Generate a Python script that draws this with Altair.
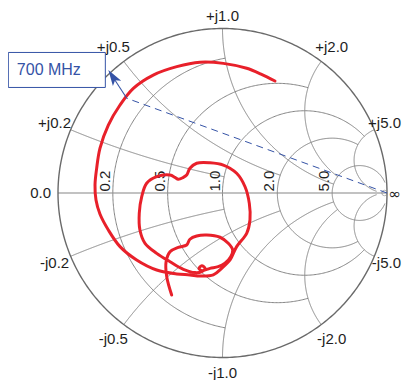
import numpy as np
import pandas as pd
import altair as alt

# ---------------- data (reflection coefficient) ----------------
trace_re = [0.319, 0.234, 0.147, 0.005, -0.137, -0.278, -0.421, -0.542, -0.623, -0.694,
            -0.745, -0.765, -0.775, -0.769, -0.745, -0.694, -0.623, -0.522, -0.400, -0.278,
            -0.198, -0.137, -0.056, -0.005, 0.046, 0.086, 0.147, 0.167, 0.163, 0.137,
            0.086, 0.005, -0.076, -0.157, -0.198, -0.218, -0.238, -0.269, -0.289, -0.319,
            -0.400, -0.461, -0.491, -0.506, -0.502, -0.471, -0.400, -0.319, -0.238, -0.167,
            -0.126, -0.106, -0.126, -0.143, -0.126, -0.076, -0.026, 0.015, 0.050, 0.062,
            0.035, -0.015, -0.096, -0.157, -0.198, -0.218, -0.269, -0.319, -0.343, -0.339,
            -0.309]
trace_im = [0.681, 0.723, 0.758, 0.788, 0.795, 0.768, 0.717, 0.636, 0.535, 0.413,
            0.272, 0.150, 0.049, -0.043, -0.128, -0.225, -0.326, -0.407, -0.468, -0.492,
            -0.498, -0.505, -0.498, -0.458, -0.407, -0.326, -0.245, -0.164, -0.063, 0.038,
            0.120, 0.170, 0.184, 0.181, 0.150, 0.109, 0.095, 0.083, 0.095, 0.109,
            0.099, 0.059, -0.022, -0.123, -0.225, -0.306, -0.367, -0.418, -0.464, -0.484,
            -0.478, -0.458, -0.442, -0.458, -0.472, -0.458, -0.448, -0.427, -0.387, -0.347,
            -0.306, -0.269, -0.255, -0.261, -0.281, -0.316, -0.330, -0.357, -0.418, -0.509,
            -0.620]

grid_values = [0.2, 0.5, 1.0, 2.0, 5.0]
grid_clip = [1.0, 2.0, 5.0, 5.0, 30.0]

marker_text = "700 MHz"
marker_tip = (-0.694, 0.748)      # arrow tip
arrow_base = (-0.582, 0.576)      # where dashed line turns into the arrow
dash_start = (1.0, 0.0)

# ---------------- layout ----------------
W, H = 394, 372
PX = 164.5                 # pixels per unit of |Gamma|
CX, CY = 214.5, 185.0      # chart centre inside the plot area
xscale = alt.Scale(domain=[-CX / PX, (W - CX) / PX], nice=False, zero=False)
yscale = alt.Scale(domain=[-(H - CY) / PX, CY / PX], nice=False, zero=False)
FONT = "Liberation Sans"
BLUE = "#3553a6"
GRID = "#858585"
XMAX = (W - CX - 1) / PX   # right edge for labels that must stay on the page


def gam(z):
    return (z - 1) / (z + 1)


# ---------------- grid ----------------
rows = []


def add(name, xs, ys):
    for i, (a, b) in enumerate(zip(xs, ys)):
        rows.append({"g": name, "i": i, "x": float(a), "y": float(b)})


for v, c in zip(grid_values, grid_clip):
    cen, rad = v / (1 + v), 1 / (1 + v)
    e = gam(v + 1j * c)
    phc = np.arctan2(e.imag, e.real - cen)
    ph = np.linspace(phc, 2 * np.pi - phc, 300)
    add(f"r{v}", cen + rad * np.cos(ph), rad * np.sin(ph))
    for s in (1, -1):
        cy_, rr = s / v, 1 / v
        p0, p1 = gam(1j * s * v), gam(c + 1j * s * v)
        a0 = np.arctan2(p0.imag - cy_, p0.real - 1)
        a1 = np.arctan2(p1.imag - cy_, p1.real - 1)
        d = (a1 - a0 + np.pi) % (2 * np.pi) - np.pi
        a = a0 + np.linspace(0, 1, 300) * d
        add(f"x{s * v}", 1 + rr * np.cos(a), cy_ + rr * np.sin(a))
add("axis", [-1, 1], [0, 0])
grid_df = pd.DataFrame(rows)

t = np.linspace(0, 2 * np.pi, 400)
outer_df = pd.DataFrame({"i": range(len(t)), "x": np.cos(t), "y": np.sin(t)})

trace_df = pd.DataFrame({"i": range(len(trace_re)), "x": trace_re, "y": trace_im})

# ---------------- labels ----------------
lab, lab_r = [], []
for v in grid_values:
    for s, sg in ((1, "+"), (-1, "-")):
        p = gam(1j * s * v)
        u = p / abs(p)
        if u.imag > 0.99:
            dist = 1.078
        elif u.imag < -0.99:
            dist = 1.095
        else:
            dist = 1.106
        txt = f"{sg}j{v:.1f}"
        if dist * u.real > 1.0:          # labels on the far right: keep inside the page
            lab_r.append({"t": txt, "x": XMAX, "y": dist * u.imag})
        else:
            lab.append({"t": txt, "x": dist * u.real, "y": dist * u.imag})
lab.append({"t": "0.0", "x": -1.106, "y": 0.0})
lab_df = pd.DataFrame(lab)
labr_df = pd.DataFrame(lab_r)
inf_df = pd.DataFrame({"t": ["\u221e"], "x": [XMAX], "y": [0.0]})

rlab_df = pd.DataFrame({
    "t": [f"{v:.1f}" for v in grid_values],
    "x": [(v - 1) / (v + 1) - 3 / PX for v in grid_values],
    "y": [1.5 / PX] * len(grid_values),
})

# ---------------- marker annotation ----------------
dash_df = pd.DataFrame({"x": [dash_start[0], arrow_base[0]], "y": [dash_start[1], arrow_base[1]], "i": [0, 1]})
dvec = np.array(marker_tip) - np.array(arrow_base)
dvec = dvec / np.linalg.norm(dvec)
head_len_px = 16
shaft_end = np.array(marker_tip) - dvec * (head_len_px * 0.6 / PX)
arrow_df = pd.DataFrame({"x": [arrow_base[0], shaft_end[0]], "y": [arrow_base[1], shaft_end[1]], "i": [0, 1]})
head_c = np.array(marker_tip) - dvec * (head_len_px / 2 / PX)
# an up-pointing glyph rotated clockwise by ang points along (dvec.x, -dvec.y) on screen
ang = float(np.degrees(np.arctan2(dvec[0], dvec[1]))) % 360
head_df = pd.DataFrame({"x": [head_c[0]], "y": [head_c[1]]})

box_right = marker_tip[0] - 3 / PX
box_left = box_right - 97 / PX
box_df = pd.DataFrame({"x": [box_left], "x2": [box_right],
                       "y": [marker_tip[1] + 17.5 / PX], "y2": [marker_tip[1] - 17.5 / PX]})
btxt_df = pd.DataFrame({"t": [marker_text], "x": [box_left + 8.5 / PX], "y": [marker_tip[1]]})

# ---------------- chart ----------------
X = alt.X("x:Q", scale=xscale, axis=None)
Y = alt.Y("y:Q", scale=yscale, axis=None)
X2 = alt.X2("x2:Q")
Y2 = alt.Y2("y2:Q")

grid = alt.Chart(grid_df).mark_line(color=GRID, strokeWidth=1).encode(
    x=X, y=Y, detail="g:N", order="i:Q")
outer = alt.Chart(outer_df).mark_line(color="#6a6a6a", strokeWidth=1.4).encode(x=X, y=Y, order="i:Q")
trace = alt.Chart(trace_df).mark_line(
    color="#e8202a", strokeWidth=3, interpolate="catmull-rom", strokeCap="round", strokeJoin="round"
).encode(x=X, y=Y, order="i:Q")
dash = alt.Chart(dash_df).mark_line(color=BLUE, strokeWidth=1, strokeDash=[7, 5]).encode(x=X, y=Y, order="i:Q")
arrow = alt.Chart(arrow_df).mark_line(color=BLUE, strokeWidth=1.1).encode(x=X, y=Y, order="i:Q")
head = alt.Chart(head_df).mark_point(
    shape="M0,-1L0.62,1L0,0.55L-0.62,1Z", size=head_len_px ** 2, filled=True, color=BLUE,
    opacity=1, angle=ang, strokeWidth=0
).encode(x=X, y=Y)
endpt = alt.Chart(pd.DataFrame({"x": [0.985], "y": [0.0]})).mark_point(
    shape="circle", size=30, color=GRID, strokeWidth=0.9, filled=False).encode(x=X, y=Y)
box = alt.Chart(box_df).mark_rect(fill="white", stroke=BLUE, strokeWidth=1).encode(x=X, x2=X2, y=Y, y2=Y2)
btxt = alt.Chart(btxt_df).mark_text(font=FONT, fontSize=16, color=BLUE, align="left", baseline="middle").encode(
    x=X, y=Y, text="t:N")
labels = alt.Chart(lab_df).mark_text(font=FONT, fontSize=15, color="#1e1e1e", align="center", baseline="middle").encode(
    x=X, y=Y, text="t:N")
labels_r = alt.Chart(labr_df).mark_text(font=FONT, fontSize=15, color="#1e1e1e", align="right", baseline="middle").encode(
    x=X, y=Y, text="t:N")
inf = alt.Chart(inf_df).mark_text(font="DejaVu Sans", fontSize=15, color="#1e1e1e", align="right",
                                  baseline="middle", dy=1).encode(x=X, y=Y, text="t:N")
rlabels = alt.Chart(rlab_df).mark_text(font=FONT, fontSize=15, color="#1e1e1e", align="left",
                                      baseline="alphabetic", angle=270).encode(x=X, y=Y, text="t:N")

chart = alt.layer(grid, outer, endpt, rlabels, labels, labels_r, inf, trace, dash, arrow, head, box, btxt).properties(
    width=W, height=H, padding=0, autosize=alt.AutoSizeParams(type="none"), background="white"
).configure_view(stroke=None)

chart.save("out.html", embed_options={"renderer": "svg", "actions": False})
